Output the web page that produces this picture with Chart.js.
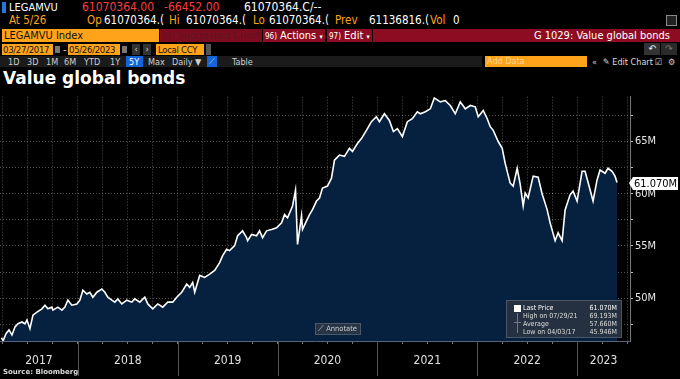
<!DOCTYPE html>
<html>
<head>
<meta charset="utf-8">
<script src="https://cdn.jsdelivr.net/npm/chart.js@4"></script>
<style>
  body { margin: 0; background: #000; width: 680px; height: 379px; overflow: hidden; position: relative;
         font-family: "DejaVu Sans Condensed", "Liberation Sans Narrow", "Liberation Sans", sans-serif; font-size: 11px; color: #fff; }
  .a { position: absolute; white-space: nowrap; line-height: 13px; }
  .q { font-size: 12px; }
  .q2 { font-size: 11.5px; }
  .or { color: #ffa31a; }
  .rd { color: #ff3b3b; }
  .box { position: absolute; height: 13px; line-height: 13px; white-space: nowrap; overflow: hidden; }
  .obox { background: #ffa31a; color: #111; }
  .dbox { font-size: 9.5px; letter-spacing: -0.3px; height: 11px; line-height: 11px; top: 44px; }
  .btn { position: absolute; top: 57px; height: 10px; line-height: 10px; font-size: 9px; color: #cfcfcf; white-space: nowrap; }
  #chartWrap { position: absolute; left: 0; top: 88px; width: 680px; height: 291px; }
  #legendBox { position: absolute; left: 506px; top: 300px; width: 114px; height: 36px; background: rgba(40,50,64,0.92);
               border: 1px solid #4b5666; font-size: 7px; color: #ddd; }
  .lg { position: absolute; left: 16px; width: 94px; height: 9px; line-height: 9px; white-space: nowrap; }
  .lg b { position: absolute; right: 0; top: 0; font-weight: normal; }
</style>
</head>
<body>
<!-- row 1 -->
<div class="box" style="left:2px;top:2px;width:4px;height:11px;background:#1f7ae0"></div>
<div class="a" style="left:9px;top:1px">LEGAMVU</div>
<div class="a rd q" style="left:82px;top:1px">61070364.00</div>
<div class="a rd q" style="left:164px;top:1px">-66452.00</div>
<div class="a q" style="left:244px;top:1px">61070364.C/--</div>
<div class="box" style="left:666px;top:15px;width:9px;height:9px;border:1px solid #888;background:#222"></div>
<!-- row 2 -->
<div class="a or q2" style="left:9px;top:14px">At 5/26</div>
<div class="a or q2" style="left:87px;top:14px">Op</div>
<div class="a q2" style="left:104px;top:14px">61070364.(</div>
<div class="a or q2" style="left:169px;top:14px">Hi</div>
<div class="a q2" style="left:186px;top:14px">61070364.(</div>
<div class="a or q2" style="left:253px;top:14px">Lo</div>
<div class="a q2" style="left:269px;top:14px">61070364.(</div>
<div class="a or q2" style="left:335px;top:14px">Prev</div>
<div class="a q2" style="left:369px;top:14px">61136816.(</div>
<div class="a or q2" style="left:430px;top:14px">Vol</div>
<div class="a q2" style="left:453px;top:14px">0</div>
<!-- row 3 -->
<div class="box obox" style="left:2px;top:29px;width:155px;padding-left:2px">LEGAMVU Index</div>
<div class="box" style="left:160px;top:29px;width:100px;background:#7e0b1e;color:#5e1424;padding-left:2px"><span style="font-size:8px">94)</span> Suggested Charts</div>
<div class="box" style="left:263px;top:29px;width:60px;background:#8e0c22;padding-left:2px"><span style="font-size:8px">96)</span> Actions <span style="font-size:7px">▾</span></div>
<div class="box" style="left:327px;top:29px;width:43px;background:#8e0c22;padding-left:2px"><span style="font-size:8px">97)</span> Edit <span style="font-size:7px">▾</span></div>
<div class="box" style="left:373px;top:29px;width:297px;background:#8e0c22;text-align:right;padding-right:10px">G 1029: Value global bonds</div>
<!-- row 4 -->
<div class="box obox dbox" style="left:2px;width:50px;padding-left:1px">03/27/2017</div>
<div class="box" style="left:55px;top:46px;width:5px;height:7px;background:#777"></div>
<div class="a" style="left:63px;top:43px;color:#ccc">-</div>
<div class="box obox dbox" style="left:68px;width:51px;padding-left:1px">05/26/2023</div>
<div class="box" style="left:122px;top:46px;width:5px;height:7px;background:#777"></div>
<div class="box" style="left:132px;top:44px;width:8px;height:11px;line-height:11px;background:#333;color:#ddd;font-size:9px;text-align:center">&lsaquo;</div>
<div class="box" style="left:143px;top:44px;width:8px;height:11px;line-height:11px;background:#333;color:#ddd;font-size:9px;text-align:center">&rsaquo;</div>
<div class="box obox dbox" style="left:156px;width:46px;padding-left:2px">Local CCY</div>
<div class="box" style="left:206px;top:44px;width:5px;height:11px;background:#555"></div>
<div class="box" style="left:644px;top:43px;width:16px;height:12px;line-height:12px;background:#333;color:#eee;text-align:center;font-size:10px">↶</div>
<div class="box" style="left:661px;top:43px;width:16px;height:12px;line-height:12px;background:#2a2a2a;color:#777;text-align:center;font-size:10px">↷</div>
<!-- row 5 -->
<div class="box" style="left:0;top:56px;width:482px;height:11px;background:#1b1b1b"></div>
<div class="btn" style="left:8px">1D</div>
<div class="btn" style="left:27px">3D</div>
<div class="btn" style="left:46px">1M</div>
<div class="btn" style="left:64px">6M</div>
<div class="btn" style="left:84px">YTD</div>
<div class="btn" style="left:110px">1Y</div>
<div class="box" style="left:126px;top:56px;width:17px;height:11px;background:#1565d8"></div>
<div class="btn" style="left:129px;color:#fff">5Y</div>
<div class="btn" style="left:148px">Max</div>
<div class="btn" style="left:172px">Daily ▼</div>
<div class="box" style="left:207px;top:56px;width:10px;height:11px;background:#1565d8;color:#cde;font-size:8px;line-height:11px;text-align:center">⟋</div>
<div class="btn" style="left:232px">Table</div>
<div class="box" style="left:485px;top:56px;width:100px;height:11px;line-height:11px;background:#ffa31a;color:#ffd591;font-size:9px;padding-left:2px">Add Data</div>
<div class="btn" style="left:592px;color:#ccc">«</div>
<div class="btn" style="left:603px;color:#ddd">✎ Edit Chart</div>
<div class="btn" style="left:655px;color:#ccc">☑</div>
<div class="btn" style="left:668px;color:#ccc">⚙</div>
<!-- title -->
<div class="a" style="left:3px;top:67px;line-height:22px;font-family:'DejaVu Sans',sans-serif;font-weight:bold;font-size:17px">Value global bonds</div>

<div id="chartWrap"><canvas id="bondChart"></canvas></div>

<div id="legendBox">
  <div style="position:absolute;left:7px;top:4px;width:7px;height:7px;background:#fff"></div>
  <div style="position:absolute;left:10px;top:12px;width:1px;height:20px;background:#778"></div>
  <div style="position:absolute;left:7px;top:21px;width:7px;height:1px;background:#778"></div>
  <div class="lg" style="top:3px;color:#fff">Last Price<b>61.070M</b></div>
  <div class="lg" style="top:11px">High on 07/29/21<b>69.193M</b></div>
  <div class="lg" style="top:19px">Average<b>57.660M</b></div>
  <div class="lg" style="top:27px">Low on 04/03/17<b>45.946M</b></div>
</div>
<div class="box" style="left:315px;top:323px;width:42px;height:10px;line-height:10px;font-size:7.5px;color:#ccc;background:rgba(45,55,70,0.85);border:1px solid #4b5666;padding-left:2px">⟋ Annotate</div>
<div class="a" style="left:3px;top:367px;font-family:'DejaVu Sans',sans-serif;font-weight:bold;font-size:7px;color:#ddd;line-height:10px">Source: Bloomberg</div>

<script>
// time as decimal years, values in millions
var years = [2017.233, 2017.252, 2017.28, 2017.31, 2017.34, 2017.37, 2017.40, 2017.44, 2017.47, 2017.49,
  2017.52, 2017.55, 2017.59, 2017.64, 2017.67, 2017.70, 2017.74, 2017.75, 2017.80, 2017.84,
  2017.87, 2017.90, 2017.94, 2017.99, 2018.02, 2018.05, 2018.09, 2018.12, 2018.15, 2018.19,
  2018.24, 2018.27, 2018.30, 2018.34, 2018.37, 2018.40, 2018.44, 2018.49, 2018.54, 2018.57,
  2018.62, 2018.67, 2018.70, 2018.75, 2018.80, 2018.85, 2018.90, 2018.95, 2018.99, 2019.04,
  2019.09, 2019.12, 2019.15, 2019.17, 2019.22, 2019.27, 2019.32, 2019.37, 2019.42, 2019.45,
  2019.49, 2019.52, 2019.57, 2019.60, 2019.65, 2019.69, 2019.70, 2019.74, 2019.79, 2019.82,
  2019.85, 2019.89, 2019.94, 2019.99, 2020.04, 2020.07, 2020.10, 2020.15, 2020.18, 2020.20,
  2020.24, 2020.25, 2020.29, 2020.32, 2020.35, 2020.39, 2020.42, 2020.45, 2020.50, 2020.54,
  2020.57, 2020.62, 2020.67, 2020.72, 2020.75, 2020.80, 2020.84, 2020.89, 2020.94, 2020.99,
  2021.02, 2021.07, 2021.12, 2021.16, 2021.20, 2021.25, 2021.30, 2021.35, 2021.40, 2021.43,
  2021.48, 2021.53, 2021.57, 2021.63, 2021.68, 2021.73, 2021.78, 2021.83, 2021.88, 2021.93,
  2021.98, 2022.01, 2022.06, 2022.10, 2022.13, 2022.16, 2022.21, 2022.25, 2022.28, 2022.33,
  2022.36, 2022.40, 2022.43, 2022.46, 2022.48, 2022.51, 2022.56, 2022.61, 2022.65, 2022.70,
  2022.73, 2022.78, 2022.81, 2022.85, 2022.88, 2022.93, 2022.96, 2023.00, 2023.05, 2023.08,
  2023.13, 2023.16, 2023.20, 2023.23, 2023.28, 2023.31, 2023.35, 2023.38, 2023.40];
var values = [46.2, 45.95, 46.60, 46.96, 46.48, 47.24, 47.55, 47.72, 47.55, 47.91,
  47.08, 48.38, 48.67, 48.98, 49.33, 48.98, 49.14, 48.86, 49.14, 48.86,
  49.14, 49.81, 49.33, 49.45, 49.81, 50.76, 50.40, 50.57, 50.09, 50.57,
  50.88, 50.57, 50.09, 49.81, 49.62, 49.93, 49.45, 49.81, 49.62, 49.93,
  49.62, 50.09, 49.45, 48.98, 49.45, 49.14, 49.62, 49.62, 50.09, 50.57,
  51.35, 51.04, 51.51, 50.57, 52.18, 51.99, 52.30, 52.65, 53.41, 54.08,
  54.68, 54.55, 55.03, 55.98, 56.45, 55.79, 55.50, 56.10, 55.98, 56.45,
  55.79, 56.45, 56.58, 56.74, 57.21, 58.00, 57.69, 58.83, 60.35, 55.15,
  57.88, 56.58, 57.40, 58.00, 58.48, 59.30, 59.59, 60.54, 60.73, 61.49,
  63.22, 63.70, 63.58, 64.34, 64.05, 64.81, 65.28, 66.07, 66.90, 67.37,
  66.90, 67.66, 67.02, 65.95, 66.23, 65.47, 66.90, 67.18, 67.85, 67.66,
  67.85, 68.13, 69.18, 68.80, 68.92, 68.45, 67.66, 68.80, 68.13, 68.45,
  68.32, 67.37, 67.97, 67.18, 66.42, 66.07, 65.00, 64.34, 62.91, 61.01,
  60.73, 62.44, 60.92, 58.83, 60.06, 59.59, 61.68, 61.58, 59.97, 58.48,
  57.21, 55.50, 56.26, 55.50, 58.45, 59.90, 60.25, 59.30, 62.15, 62.15,
  60.38, 59.30, 61.32, 62.27, 61.96, 62.44, 62.15, 61.68, 61.07];
var yearLabels = ['2017', '2018', '2019', '2020', '2021', '2022', '2023'];
var yTicks = [47.5, 50, 52.5, 55, 57.5, 60, 62.5, 65, 67.5];
var lastPriceLabel = '61.070M';

var points = years.map(function(t, i) { return {x: t, y: values[i]}; });

var axisFont = {family: '"DejaVu Sans Condensed", "Liberation Sans Narrow", sans-serif', size: 11};

// year separators, year labels and the last price tag
var bloombergBits = {
    id: 'bloombergBits',
    afterDraw: function(chart) {
        var ctx = chart.ctx;
        var xs = chart.scales.x;
        var ys = chart.scales.y;
        var area = chart.chartArea;
        ctx.save();
        ctx.strokeStyle = '#555';
        ctx.lineWidth = 1;
        for (var i = 1; i < yearLabels.length; i++) {
            var px = Math.round(xs.getPixelForValue(+yearLabels[i])) + 0.5;
            ctx.beginPath();
            ctx.moveTo(px, area.bottom);
            ctx.lineTo(px, area.bottom + 35);
            ctx.stroke();
        }
        ctx.fillStyle = '#e0e0e0';
        ctx.font = '12px ' + axisFont.family;
        ctx.textAlign = 'center';
        ctx.textBaseline = 'middle';
        for (var j = 0; j < yearLabels.length; j++) {
            var y0 = +yearLabels[j];
            var a = Math.max(xs.getPixelForValue(y0), area.left);
            var b = Math.min(xs.getPixelForValue(y0 + 1), area.right);
            ctx.fillText(yearLabels[j], (a + b) / 2, area.bottom + 20);
        }
        // last price tag
        var py = Math.round(ys.getPixelForValue(values[values.length - 1]));
        var left = area.right + 3;
        ctx.fillStyle = '#fff';
        ctx.beginPath();
        ctx.moveTo(left - 4, py);
        ctx.lineTo(left, py - 6);
        ctx.lineTo(left + 45, py - 6);
        ctx.lineTo(left + 45, py + 7);
        ctx.lineTo(left, py + 7);
        ctx.closePath();
        ctx.fill();
        ctx.fillStyle = '#000';
        ctx.textAlign = 'left';
        ctx.font = '11px ' + axisFont.family;
        ctx.fillText(lastPriceLabel, left + 1, py + 1);
        ctx.restore();
    }
};

var ctx = document.getElementById('bondChart').getContext('2d');
var bondChart = new Chart(ctx, {
    type: 'line',
    data: {
        datasets: [{
            data: points,
            borderColor: '#ffffff',
            borderWidth: 1.6,
            backgroundColor: '#06213f',
            fill: 'start',
            pointRadius: 0,
            tension: 0
        }]
    },
    options: {
        responsive: true,
        maintainAspectRatio: false,
        animation: false,
        layout: {padding: {top: 5, left: 0, right: 0, bottom: 0}},
        plugins: {legend: {display: false}, tooltip: {enabled: false}},
        scales: {
            x: {
                type: 'linear',
                min: 2017.22,
                max: 2023.53,
                z: 1,
                afterBuildTicks: function(scale) {
                    var t = [];
                    for (var q = 2017.25; q <= 2023.5; q += 0.25) t.push({value: q});
                    scale.ticks = t;
                },
                afterFit: function(scale) { scale.height = 38; },
                ticks: {display: false},
                grid: {color: 'rgba(255,255,255,0.32)', tickLength: 3, tickColor: '#777', tickBorderDash: []},
                border: {color: '#55657b', width: 1, dash: [1, 2]}
            },
            y: {
                position: 'right',
                min: 45.9,
                max: 69.3,
                z: 1,
                afterBuildTicks: function(scale) {
                    scale.ticks = yTicks.map(function(v) { return {value: v}; });
                },
                afterFit: function(scale) { scale.width = 50; },
                ticks: {
                    color: '#e6e6e6',
                    font: axisFont,
                    padding: 2,
                    callback: function(v) { return v % 5 === 0 ? v + 'M' : ''; }
                },
                grid: {color: 'rgba(255,255,255,0.32)', tickLength: 3, tickColor: '#bbb', tickBorderDash: []},
                border: {color: '#777', width: 1, dash: [1, 2]}
            }
        }
    },
    plugins: [bloombergBits]
});
</script>
</body>
</html>
